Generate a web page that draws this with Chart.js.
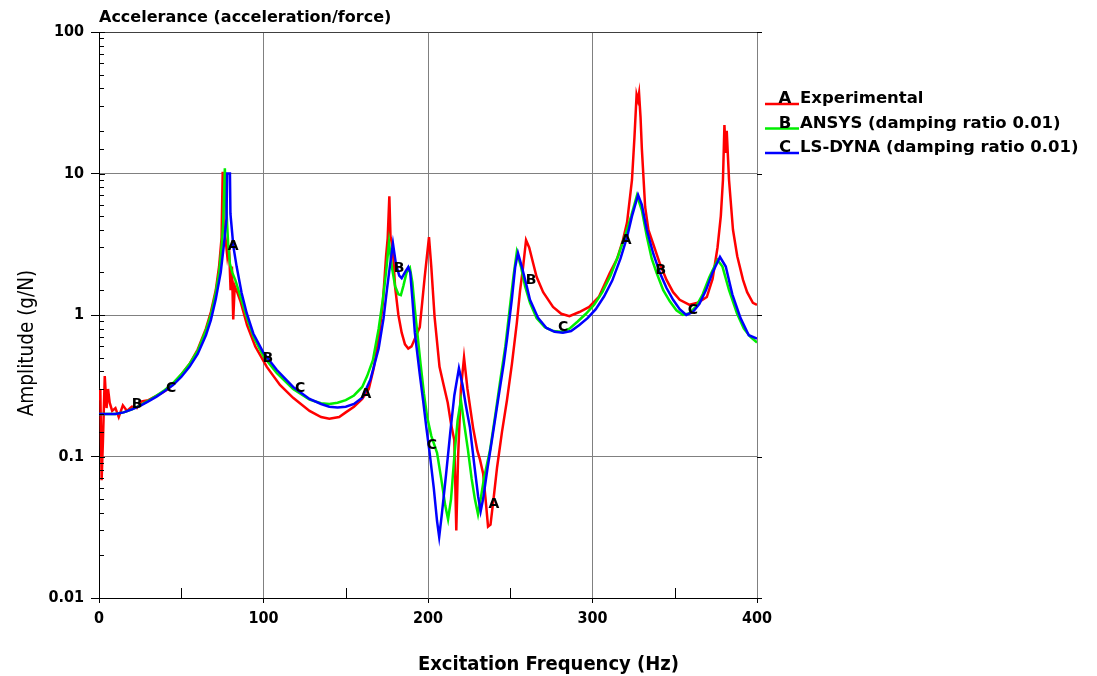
<!DOCTYPE html>
<html>
<head>
<meta charset="utf-8">
<script src="https://cdn.jsdelivr.net/npm/chart.js@4.4.1/dist/chart.umd.min.js"></script>
<style>
  html, body { margin: 0; padding: 0; background: #fff; }
  #wrap { width: 1097px; height: 676px; }
</style>
</head>
<body>
<div id="wrap"><canvas id="frf" width="1097" height="676"></canvas></div>
<script>
// A - experimental accelerance
const expFreq = [0, 0.8, 1.6, 2.4, 3.5, 4.6, 5.5, 6.5, 8, 10, 12, 14.5, 17, 20, 23, 26, 30, 34, 38, 42, 46, 50, 55, 60, 65, 68, 71, 73, 74.5, 75.2, 75.8, 77, 78, 79, 80, 80.8, 81.6, 82.5, 84, 86, 90, 95, 102, 110, 118, 128, 135, 140, 146, 150, 155, 160, 164, 167, 170, 172.5, 174.5, 175.5, 176.5, 177.2, 178.5, 180, 182, 184, 186, 188, 190, 192, 195, 198, 200.6, 202, 204, 207, 209.5, 212, 214, 216, 217.2, 218.3, 220, 221.9, 224, 227.4, 230, 231.6, 233.5, 235, 236.5, 238, 240, 242, 245, 248, 251, 254, 256, 257.8, 259.6, 261.5, 264, 266, 270, 276, 281, 286, 292, 298, 304, 310.5, 315, 318.5, 321, 324, 325.5, 326.8, 327.6, 328.3, 329.2, 330, 332, 334, 336.8, 341, 345, 349, 353, 359, 364, 369.5, 373, 376, 378, 379.3, 380.2, 381, 381.6, 383, 385.4, 388, 391.5, 394, 397.5, 400]
const expAmp = [0.25, 0.3, 0.068, 0.13, 0.37, 0.22, 0.3, 0.24, 0.21, 0.22, 0.19, 0.23, 0.21, 0.225, 0.22, 0.245, 0.25, 0.265, 0.28, 0.3, 0.335, 0.38, 0.45, 0.57, 0.8, 1.05, 1.5, 2.2, 3.5, 10.3, 4.2, 3.4, 2.6, 3.1, 1.5, 2.2, 0.93, 1.6, 1.45, 1.25, 0.85, 0.6, 0.43, 0.32, 0.26, 0.21, 0.19, 0.185, 0.19, 0.205, 0.225, 0.255, 0.3, 0.42, 0.68, 1.2, 2.6, 3.5, 6.9, 3.6, 3.0, 1.58, 1.0, 0.75, 0.62, 0.58, 0.6, 0.68, 0.82, 1.86, 3.55, 2.2, 0.97, 0.43, 0.32, 0.24, 0.17, 0.13, 0.03, 0.1, 0.3, 0.5, 0.3, 0.16, 0.11, 0.095, 0.076, 0.05, 0.032, 0.033, 0.052, 0.084, 0.15, 0.25, 0.45, 0.88, 1.5, 2.18, 3.38, 3.0, 2.3, 1.86, 1.45, 1.14, 1.02, 0.98, 1.05, 1.14, 1.35, 1.98, 2.5, 3.38, 4.5, 9, 18, 36, 33, 37, 25, 15, 5.8, 4, 3.2, 2.3, 1.77, 1.45, 1.28, 1.18, 1.22, 1.34, 1.8, 3.0, 5, 9, 22, 14, 20, 9, 4.0, 2.6, 1.77, 1.45, 1.22, 1.18]

// B - ANSYS, damping ratio 0.01
const ansysFreq = [0, 5, 10, 15, 20, 25, 30, 35, 40, 45, 50, 55, 60, 65, 68, 71, 73, 74.5, 75.5, 76.5, 77.3, 78.5, 79.6, 81, 83, 86, 90, 94, 100, 108, 118, 128, 135, 140, 145, 150, 155, 160, 163, 166.5, 170, 172.5, 174.5, 176.3, 178, 180, 182, 183.5, 185, 187, 189, 190.5, 192, 193.5, 195.5, 197.5, 199.5, 202, 205.5, 208, 210.5, 212.2, 214, 216, 218, 220, 222, 224.3, 226.5, 228.5, 230.4, 232, 234, 237.7, 241, 244, 247, 250, 252, 254, 256.5, 259, 262, 266, 271, 276, 281, 286, 291, 296, 301, 306, 311, 316, 320, 323.5, 327, 330, 333, 336, 339, 343, 347, 351, 355, 359, 363, 367, 371, 376, 379, 383, 387.8, 392, 396, 400]
const ansysAmp = [0.2, 0.2, 0.2, 0.205, 0.215, 0.23, 0.248, 0.27, 0.295, 0.33, 0.38, 0.45, 0.56, 0.78, 1.0, 1.45, 2.0, 3.0, 4.5, 10.9, 6, 3.2, 2.3, 2.0, 1.75, 1.35, 0.95, 0.7, 0.51, 0.39, 0.3, 0.252, 0.238, 0.235, 0.24, 0.25, 0.27, 0.31, 0.37, 0.48, 0.8, 1.28, 2.0, 3.28, 2.2, 1.6, 1.4, 1.38, 1.6, 2.0, 2.15, 1.7, 1.1, 0.75, 0.45, 0.28, 0.19, 0.14, 0.106, 0.07, 0.045, 0.036, 0.05, 0.1, 0.18, 0.25, 0.17, 0.111, 0.07, 0.05, 0.039, 0.05, 0.07, 0.111, 0.2, 0.35, 0.6, 1.2, 1.9, 2.79, 2.2, 1.6, 1.22, 0.95, 0.82, 0.77, 0.76, 0.8, 0.9, 1.02, 1.18, 1.45, 1.9, 2.7, 3.7, 5, 7.0, 5.5, 3.6, 2.5, 1.98, 1.5, 1.25, 1.08, 1.0, 1.03, 1.15, 1.4, 1.85, 2.45, 2.2, 1.5, 1.03, 0.8, 0.7, 0.64]

// C - LS-DYNA, damping ratio 0.01
const dynaFreq = [0, 5, 10, 15, 20, 25, 30, 35, 40, 45, 50, 55, 60, 65, 68, 71, 74, 76, 77.5, 77.9, 79.6, 79.9, 81.7, 83.7, 86.7, 89.8, 93.8, 100, 108, 118, 128, 135, 140, 145, 150, 155, 160, 165, 170, 173, 175, 176.8, 178.7, 180.5, 182.5, 184, 186, 188, 189.2, 190.5, 192, 195, 197, 199, 201, 203.5, 205.5, 206.8, 208.5, 211, 213.5, 216, 218.8, 221, 223, 225.5, 228, 230.5, 232, 233.5, 236, 239.5, 243, 246, 248, 251, 253, 254.7, 257, 260, 262, 267, 272, 277, 282, 287, 292, 297, 302, 307, 312, 317, 321, 324, 327.7, 330, 333, 337, 341, 345, 349, 353, 357, 361, 365, 369, 373, 377.5, 381, 385, 390, 395, 400]
const dynaAmp = [0.2, 0.2, 0.2, 0.205, 0.215, 0.228, 0.245, 0.265, 0.29, 0.32, 0.365, 0.43, 0.53, 0.72, 0.92, 1.3, 2.0, 3.2, 4.8, 10, 10, 5.2, 3.04, 2.19, 1.43, 1.03, 0.74, 0.54, 0.41, 0.31, 0.255, 0.235, 0.225, 0.222, 0.225, 0.235, 0.26, 0.35, 0.58, 0.95, 1.5, 2.2, 3.2, 2.3, 1.9, 1.82, 2.0, 2.18, 2.0, 1.3, 0.75, 0.38, 0.25, 0.16, 0.106, 0.06, 0.035, 0.027, 0.04, 0.075, 0.146, 0.27, 0.42, 0.32, 0.23, 0.16, 0.09, 0.052, 0.041, 0.05, 0.08, 0.146, 0.27, 0.45, 0.67, 1.3, 2.18, 2.74, 2.2, 1.6, 1.28, 0.95, 0.81, 0.76, 0.75, 0.77, 0.85, 0.95, 1.1, 1.35, 1.75, 2.5, 3.55, 5, 7.05, 6.0, 4.0, 2.7, 1.98, 1.55, 1.28, 1.1, 1.0, 1.05, 1.2, 1.5, 2.0, 2.57, 2.2, 1.4, 0.95, 0.72, 0.68]

// curve id letters written along the traces
const markText = ['B', 'C', 'A', 'B', 'C', 'A', 'B', 'C', 'A', 'B', 'C', 'A', 'B', 'C']
const markFreq = [23.1, 43.8, 81.5, 102.7, 122.2, 162.3, 182.4, 202.4, 240.1, 262.6, 282.1, 320.4, 341.6, 361.1]
const markAmp = [0.235, 0.305, 3.07, 0.497, 0.305, 0.277, 2.15, 0.12, 0.046, 1.77, 0.82, 3.39, 2.08, 1.07]

const seriesLetters = ['A', 'B', 'C']
const seriesNames = ['Experimental', 'ANSYS (damping ratio 0.01)', 'LS-DYNA (damping ratio 0.01)']
const seriesColors = ['#ff0000', '#00ee00', '#0000ff']

const TITLE_FONT = '"DejaVu Sans", sans-serif'
const NARROW_FONT = '"DejaVu Sans Condensed", "DejaVu Sans", sans-serif'

function pts(fs, as) {
  return fs.map((f, i) => ({x: f, y: as[i]}))
}

function isDecade(v) {
  const l = Math.log10(v)
  return Math.abs(l - Math.round(l)) < 1e-6
}

const overlay = {
  id: 'overlay',
  afterDraw(chart) {
    const {ctx, chartArea: a, scales: {x, y}} = chart
    ctx.save()

    // small ticks on the inside of the frame
    ctx.strokeStyle = '#000'
    ctx.lineWidth = 1
    ctx.beginPath()
    y.ticks.forEach(t => {
      const py = Math.round(y.getPixelForValue(t.value)) + 0.5
      if (isDecade(t.value)) {
        ctx.moveTo(a.left, py); ctx.lineTo(a.left + 6, py)
        ctx.moveTo(a.right, py); ctx.lineTo(a.right + 5, py)
      } else {
        ctx.moveTo(a.left, py); ctx.lineTo(a.left + 5, py)
      }
    })
    x.ticks.forEach(t => {
      if (t.value % 100 === 0) return
      const px = Math.round(x.getPixelForValue(t.value)) + 0.5
      ctx.moveTo(px, a.bottom); ctx.lineTo(px, a.bottom - 10)
    })
    ctx.stroke()

    // letters on the curves
    ctx.fillStyle = '#000'
    ctx.font = 'bold 14px ' + TITLE_FONT
    ctx.textAlign = 'center'
    ctx.textBaseline = 'middle'
    markText.forEach((m, i) => {
      ctx.fillText(m, x.getPixelForValue(markFreq[i]), y.getPixelForValue(markAmp[i]))
    })

    // legend at the right
    const lx = a.right + 8
    ctx.textBaseline = 'alphabetic'
    seriesNames.forEach((name, i) => {
      const by = a.top + 71 + i * 24.5
      ctx.strokeStyle = seriesColors[i]
      ctx.lineWidth = 2.5
      ctx.beginPath()
      ctx.moveTo(lx, by + 1)
      ctx.lineTo(lx + 34, by + 1)
      ctx.stroke()
      ctx.fillStyle = '#000'
      ctx.font = 'bold 16.5px ' + TITLE_FONT
      ctx.textAlign = 'center'
      ctx.fillText(seriesLetters[i], lx + 20, by)
      ctx.textAlign = 'left'
      ctx.fillText(name, lx + 35, by)
    })

    // chart title and axis titles
    ctx.font = 'bold 16px ' + TITLE_FONT
    ctx.textAlign = 'left'
    ctx.fillText('Accelerance (acceleration/force)', a.left, 22)

    ctx.font = 'bold 20px ' + NARROW_FONT
    ctx.textAlign = 'center'
    ctx.fillText('Excitation Frequency (Hz)', chart.width / 2, 670)

    ctx.translate(33, 343)
    ctx.rotate(-Math.PI / 2)
    ctx.font = '20.5px ' + NARROW_FONT
    ctx.fillText('Amplitude (g/N)', 0, 0)

    ctx.restore()
  }
}

const ctx = document.getElementById('frf')
new Chart(ctx, {
  type: 'line',
  data: {
    datasets: [
      {label: seriesNames[0], data: pts(expFreq, expAmp), borderColor: seriesColors[0], order: 3},
      {label: seriesNames[1], data: pts(ansysFreq, ansysAmp), borderColor: seriesColors[1], order: 2},
      {label: seriesNames[2], data: pts(dynaFreq, dynaAmp), borderColor: seriesColors[2], order: 1}
    ]
  },
  options: {
    responsive: false,
    devicePixelRatio: 1,
    animation: false,
    layout: {padding: {top: 32, right: 340, bottom: 0, left: 0}},
    elements: {
      line: {borderWidth: 2.5, tension: 0},
      point: {radius: 0}
    },
    plugins: {
      legend: {display: false},
      title: {display: false},
      tooltip: {enabled: false}
    },
    scales: {
      x: {
        type: 'linear',
        min: 0,
        max: 400,
        afterFit: s => { s.height = 78 },
        border: {color: '#000', width: 1},
        grid: {
          color: c => (c.tick && c.tick.value % 100 === 0 && c.tick.value > 0) ? '#808080' : 'rgba(0,0,0,0)',
          tickColor: c => (c.tick && c.tick.value % 100 === 0) ? '#000' : 'rgba(0,0,0,0)',
          tickLength: 5
        },
        ticks: {
          stepSize: 50,
          autoSkip: false,
          maxRotation: 0,
          padding: 6,
          color: '#000',
          font: {family: NARROW_FONT, size: 16, weight: 'bold'},
          callback: v => v % 100 === 0 ? String(v) : ''
        }
      },
      y: {
        type: 'logarithmic',
        min: 0.01,
        max: 100,
        afterFit: s => { s.width = 99 },
        border: {color: '#000', width: 1},
        grid: {
          color: c => {
            if (!c.tick || !isDecade(c.tick.value)) return 'rgba(0,0,0,0)'
            if (c.tick.value > 50) return '#404040'
            if (c.tick.value < 0.02) return 'rgba(0,0,0,0)'
            return '#808080'
          },
          tickColor: c => (c.tick && isDecade(c.tick.value)) ? '#000' : 'rgba(0,0,0,0)',
          tickLength: 8
        },
        ticks: {
          autoSkip: false,
          padding: 7,
          color: '#000',
          font: {family: NARROW_FONT, size: 16, weight: 'bold'},
          callback: v => {
            if (!isDecade(v)) return ''
            const e = Math.round(Math.log10(v))
            return e >= 0 ? String(Math.pow(10, e)) : Math.pow(10, e).toFixed(-e)
          }
        }
      }
    }
  },
  plugins: [overlay]
})
</script>
</body>
</html>
